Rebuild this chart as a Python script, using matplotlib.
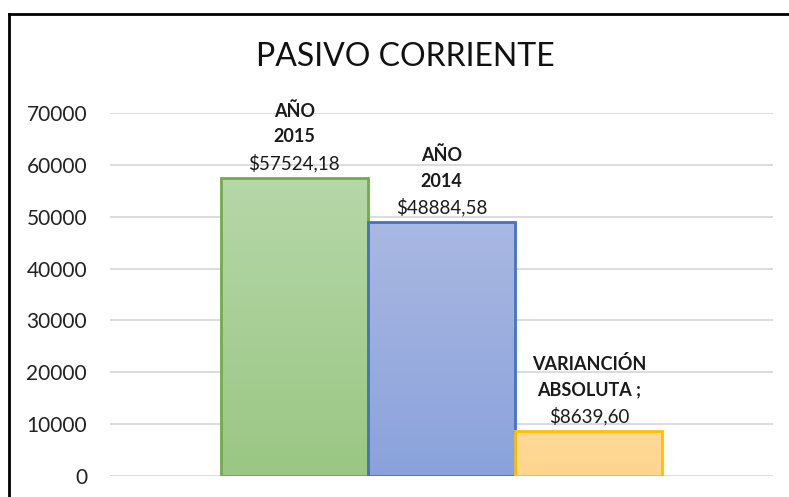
import numpy as np
import matplotlib.pyplot as plt
from matplotlib.colors import LinearSegmentedColormap
from matplotlib.lines import Line2D

plt.rcParams['font.family'] = ['Lato', 'DejaVu Sans']

series = ["AÑO\n2015", "AÑO\n2014", "VARIANCIÓN\nABSOLUTA ;"]
values = [57524.18, 48884.58, 8639.60]
value_labels = ["$57524,18", "$48884,58", "$8639,60"]
yticks = [0, 10000, 20000, 30000, 40000, 50000, 60000, 70000]

tops = ["#b6d7a8", "#aab8e2", "#ffd999"]
bottoms = ["#9ac784", "#8aa2dc", "#ffd68c"]
edges = ["#70ad47", "#4472c4", "#ffc000"]

fig = plt.figure(figsize=(7.89, 4.97), dpi=100)
ax = fig.add_axes([110/789, 21/497, 663/789, 363/497])

x = np.arange(len(values))
bars = ax.bar(x, values, width=1.0, color="none", edgecolor="none", zorder=3)
for b, t, bt, ec in zip(bars, tops, bottoms, edges):
    x0, y0 = b.get_x(), b.get_y()
    w, h = b.get_width(), b.get_height()
    cmap = LinearSegmentedColormap.from_list("g", [bt, t])
    grad = np.linspace(0, 1, 256).reshape(-1, 1)
    im = ax.imshow(grad, cmap=cmap, aspect="auto", origin="lower",
                   extent=[x0, x0 + w, y0, y0 + h], zorder=3)
    im.set_clip_path(b)
    ax.add_patch(plt.Rectangle((x0, y0), w, h, fill=False, edgecolor=ec, linewidth=2, zorder=4))

# data labels: two bold lines + value
for xi, v, name, lab in zip(x, values, series, value_labels):
    l1, l2 = name.split("\n")
    ax.annotate(lab, (xi, v), xytext=(0, 15), textcoords="offset pixels",
                ha="center", va="center", fontsize=13.5, color="#1a1a1a")
    ax.annotate(l2, (xi, v), xytext=(0, 41), textcoords="offset pixels",
                ha="center", va="center", fontsize=13, fontweight="bold", color="#1a1a1a")
    ax.annotate(l1, (xi, v), xytext=(0, 67), textcoords="offset pixels",
                ha="center", va="center", fontsize=13, fontweight="bold", color="#1a1a1a")

ax.set_xlim(-1.25, 3.25)
ax.set_ylim(0, 70000)
ax.set_yticks(yticks)
ax.set_yticklabels([str(t) for t in yticks], fontsize=15, color="#222222")
ax.set_xticks([])
ax.tick_params(axis="y", length=0, pad=16.5)
ax.grid(axis="y", color="#d9d9d9", linewidth=1.3, zorder=0)
for s in ax.spines.values():
    s.set_visible(False)

fig.text(405/789, 1 - 57/497, "PASIVO CORRIENTE", ha="center", va="center",
         fontsize=23, color="#111111")

# outer border (top and left)
fig.add_artist(Line2D([9/789, 9/789], [0, 1 - 14/497], transform=fig.transFigure,
                      color="black", linewidth=2))
fig.add_artist(Line2D([9/789, 1], [1 - 14/497, 1 - 14/497], transform=fig.transFigure,
                      color="black", linewidth=2))

fig.savefig("out.png", dpi=100)
